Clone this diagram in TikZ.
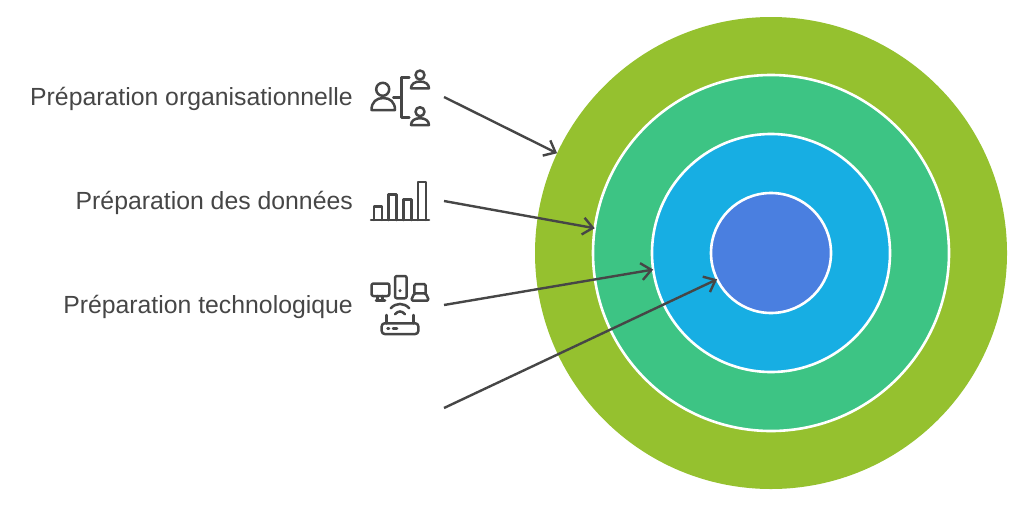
\documentclass[tikz,border=0pt]{standalone}
\usepackage{xcolor}
\usepackage{fontspec}
\setmainfont{Liberation Sans}
\usetikzlibrary{arrows.meta}
\definecolor{myolive}{RGB}{149,193,47}
\definecolor{mygreen}{RGB}{61,196,132}
\definecolor{myblue}{RGB}{23,174,227}
\definecolor{myindigo}{RGB}{74,127,224}
\definecolor{mydark}{RGB}{70,70,70}
\tikzset{
  ring/.style={circle, draw=white, line width=2.6pt, inner sep=0pt, outer sep=0pt},
  lbl/.style={anchor=east, inner sep=0pt, text=mydark, font=\fontsize{24.8}{29}\selectfont},
  arrow/.style={-{Straight Barb[length=10pt, width=17pt, line width=2.4pt]}, line width=2.4pt, color=mydark},
  icon/.style={line width=2.5pt, color=mydark, line cap=round, line join=round}
}
\begin{document}
\begin{tikzpicture}[x=1pt, y=-1pt]
  \useasboundingbox (0,0) rectangle (1024,506);
  % rings
  \node[ring, draw=none, fill=myolive, minimum size=472pt] (outer) at (771,253) {};
  \node[ring, fill=mygreen, minimum size=356pt] (second) at (771,253) {};
  \node[ring, fill=myblue, minimum size=238pt] (third) at (771,253) {};
  \node[ring, fill=myindigo, minimum size=120pt] (core) at (771,253) {};
  % labels
  \node[lbl] (org) at (353,99) {Préparation organisationnelle};
  \node[lbl] (data) at (353,203) {Préparation des données};
  \node[lbl] (tech) at (353,307) {Préparation technologique};
  % arrows
  \coordinate (orgstart) at (444,97);
  \coordinate (datastart) at (444,201);
  \coordinate (techstart) at (444,305);
  \coordinate (laststart) at (444,408);
  \draw[arrow] (orgstart) -- (outer.155);
  \draw[arrow] (datastart) -- (second.172);
  \draw[arrow] (techstart) -- (third.188);
  \draw[arrow] (laststart) -- (core.206);
  % people icon
  \draw[icon] (382.7,89.3) circle (6.5);
  \draw[icon] (371.5,110) -- (395,110) .. controls (395,102) and (390,98) .. (383.2,98) .. controls (376.5,98) and (371.5,102) .. (371.5,110) -- cycle;
  \draw[icon] (393.3,97.3) -- (401.7,97.3);
  \draw[icon] (409.3,77.3) -- (401.7,77.3) -- (401.7,117.3) -- (409.3,117.3);
  \draw[icon] (420,75) circle (4.5);
  \draw[icon] (411,88.3) -- (429,88.3) .. controls (429,84) and (425,81.5) .. (420,81.5) .. controls (415,81.5) and (411,84) .. (411,88.3) -- cycle;
  \draw[icon] (420,111.7) circle (4.5);
  \draw[icon] (411,125) -- (429,125) .. controls (429,120.7) and (425,118.2) .. (420,118.2) .. controls (415,118.2) and (411,120.7) .. (411,125) -- cycle;
  % bars icon
  \draw[icon] (371,220) -- (429,220);
  \foreach \xa/\xb/\ytop in {374/382/206.7, 388.7/396.7/194.7, 403.3/411.3/199.3, 418/426/182}
    \draw[icon] (\xa,220) -- (\xa,\ytop) -- (\xb,\ytop) -- (\xb,220);
  % devices icon
  \draw[icon, rounded corners=2pt] (371.5,283.5) rectangle (389.3,296);
  \draw[icon] (377.7,296) -- (377.7,300) (382.7,296) -- (382.7,300) (376,300.3) -- (385,300.3);
  \draw[icon, rounded corners=2pt] (395,276) rectangle (406.7,298.3);
  \fill[mydark] (400,290.7) circle (1.7);
  \draw[icon, rounded corners=1.5pt] (414.3,293.3) -- (414.3,284) -- (425.7,284) -- (425.7,293.3);
  \draw[icon, rounded corners=1.5pt] (414.3,293.3) -- (411,300.5) -- (429,300.5) -- (425.7,293.3) -- cycle;
  % router icon
  \draw[icon, rounded corners=3pt] (381.7,323.3) rectangle (418.3,334);
  \draw[icon] (386.7,323.3) -- (386.7,315) (413.3,323.3) -- (413.3,315);
  \draw[icon] (387.5,328.7) -- (389,328.7) (393,328.7) -- (397,328.7);
  \draw[icon] (390.7,308.3) .. controls (396,302.5) and (404,302.5) .. (409.3,308.3);
  \draw[icon] (395,314.3) .. controls (398,310.5) and (402,310.5) .. (405,314.3);
\end{tikzpicture}
\end{document}
